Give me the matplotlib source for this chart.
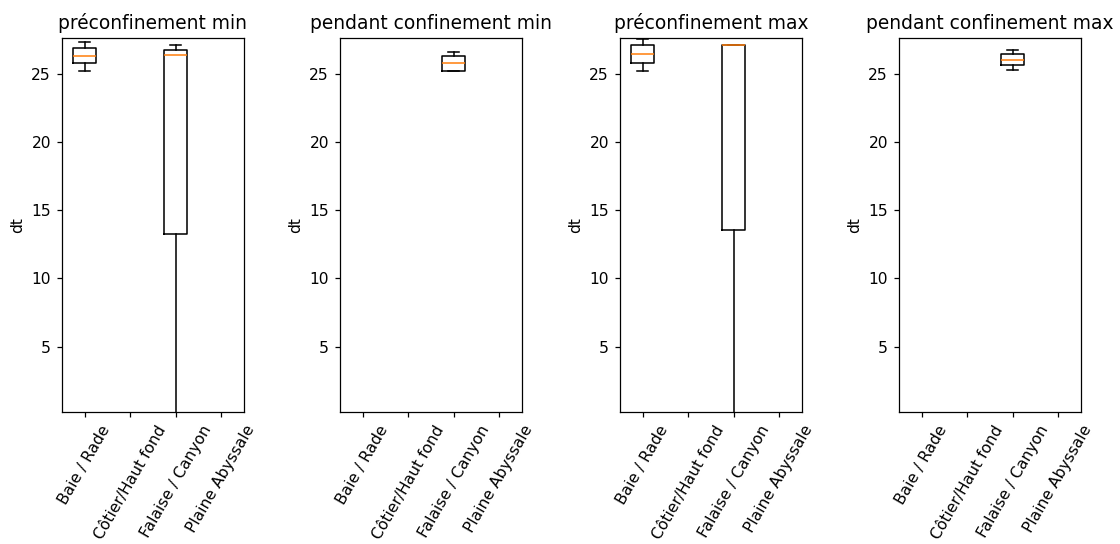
import numpy as np
import matplotlib
matplotlib.use("Agg")
import matplotlib.pyplot as plt

categories = ['Baie / Rade', 'Côtier/Haut fond', 'Falaise / Canyon', 'Plaine Abyssale']
titles = ['préconfinement min', 'pendant confinement min',
          'préconfinement max', 'pendant confinement max']

# box stats: (position, whislo, q1, med, q3, whishi)
pre_min = [(1, 25.25, 25.8, 26.3, 26.9, 27.35),
           (3, 0.15, 13.25, 26.4, 26.8, 27.1)]
pendant_min = [(3, 25.2, 25.2, 25.85, 26.3, 26.6)]
pre_max = [(1, 25.25, 25.85, 26.45, 27.1, 27.6),
           (3, 0.15, 13.55, 27.1, 27.15, 27.15)]
pendant_max = [(3, 25.3, 25.65, 26.0, 26.45, 26.75)]

panels = [pre_min, pendant_min, pre_max, pendant_max]
ymin, ymax = 0.2, 27.65


def to_stats(rows):
    stats = []
    for pos, lo, q1, med, q3, hi in rows:
        stats.append({'whislo': lo, 'q1': q1, 'med': med, 'q3': q3,
                      'whishi': hi, 'fliers': []})
    return stats


dpi = 112
fig = plt.figure(figsize=(1120 / dpi, 544 / dpi), dpi=dpi)
lefts = [62, 340, 620, 899]
for i, rows in enumerate(panels):
    ax = fig.add_axes([lefts[i] / 1120, (544 - 412) / 544, 182 / 1120, 374 / 544])
    ax.bxp(to_stats(rows), positions=[r[0] for r in rows], widths=0.5,
           showfliers=False)
    ax.set_xlim(0.5, 4.5)
    ax.set_ylim(ymin, ymax)
    ax.set_xticks(range(1, len(categories) + 1))
    ax.set_xticklabels(categories, rotation=60)
    ax.set_yticks([5, 10, 15, 20, 25])
    ax.set_ylabel('dt')
    ax.set_title(titles[i])

fig.savefig('out.png', dpi=dpi)
